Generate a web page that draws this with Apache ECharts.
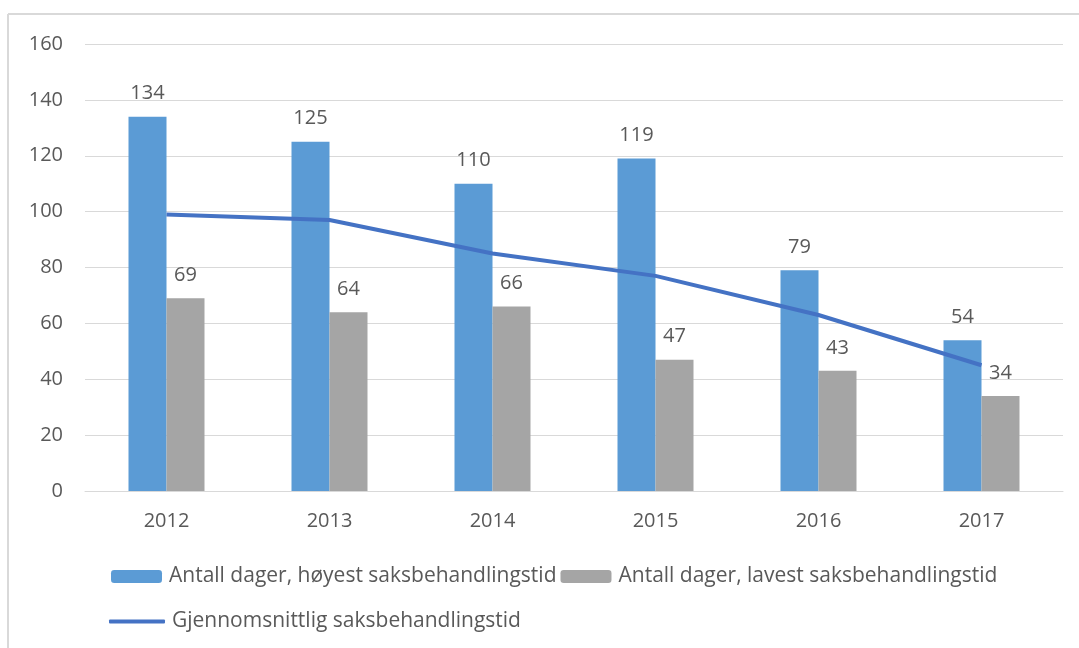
<!DOCTYPE html>
<html>
<head>
<meta charset="utf-8">
<script src="https://cdn.jsdelivr.net/npm/echarts@6/dist/echarts.min.js"></script>
<style>
html,body{margin:0;padding:0;background:#fff;}
#chart{width:1079px;height:648px;}
</style>
</head>
<body>
<div id="chart"></div>
<script>
var years = ['2012', '2013', '2014', '2015', '2016', '2017'];
var hoyest = [134, 125, 110, 119, 79, 54];
var lavest = [69, 64, 66, 47, 43, 34];
var snitt = [99, 97, 85, 77, 63, 45];

var names = [
    'Antall dager, høyest saksbehandlingstid',
    'Antall dager, lavest saksbehandlingstid',
    'Gjennomsnittlig saksbehandlingstid'
];

var txt = '#595959';
var font = 'Open Sans';

var myChart = echarts.init(document.getElementById('chart'));

option = {
    animation: false,
    textStyle: {fontFamily: font},
    grid: {left: 85, right: 16, top: 44, bottom: 157},
    graphic: [
        {type: 'line', shape: {x1: 8, y1: 14, x2: 1079, y2: 14}, style: {stroke: '#D9D9D9', lineWidth: 2}},
        {type: 'line', shape: {x1: 8, y1: 14, x2: 8, y2: 648}, style: {stroke: '#D9D9D9', lineWidth: 2}}
    ],
    legend: [{
        data: [names[0], names[1]],
        left: 106, top: 561,
        itemWidth: 51, itemHeight: 13, itemGap: 4,
        textStyle: {color: txt, fontSize: 21, fontFamily: font, padding: [0, 0, 0, 2]}
    }, {
        data: [{name: names[2], icon: 'roundRect'}],
        left: 104, top: 606,
        itemWidth: 56, itemHeight: 4,
        textStyle: {color: txt, fontSize: 21, fontFamily: font, padding: [0, 0, 0, 2]}
    }],
    xAxis: {
        type: 'category',
        data: years,
        axisLine: {lineStyle: {color: '#D9D9D9', width: 1}},
        axisTick: {show: false},
        axisLabel: {color: txt, fontSize: 20, margin: 20}
    },
    yAxis: {
        type: 'value',
        min: 0, max: 160, interval: 20,
        splitLine: {lineStyle: {color: '#D9D9D9'}},
        axisLabel: {color: txt, fontSize: 20, margin: 22}
    },
    series: [
        {
            name: names[0], type: 'bar', data: hoyest,
            barWidth: 38, barGap: '0%',
            itemStyle: {color: '#5B9BD5'},
            label: {show: true, position: 'top', distance: 13, color: txt, fontSize: 20}
        },
        {
            name: names[1], type: 'bar', data: lavest,
            barWidth: 38,
            itemStyle: {color: '#A5A5A5'},
            label: {show: true, position: 'top', distance: 13, color: txt, fontSize: 20}
        },
        {
            name: names[2], type: 'line', data: snitt,
            symbol: 'none', z: 5,
            lineStyle: {color: '#4472C4', width: 4},
            itemStyle: {color: '#4472C4'}
        }
    ]
};

myChart.setOption(option);
</script>
</body>
</html>
